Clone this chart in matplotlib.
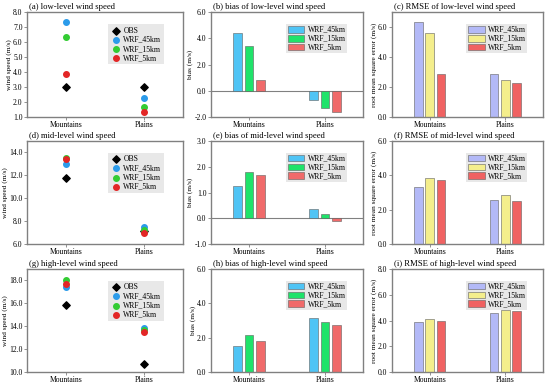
import numpy as np
import matplotlib
matplotlib.use("Agg")
import matplotlib.pyplot as plt
from matplotlib.ticker import FormatStrFormatter

plt.rcParams['font.family'] = ['Liberation Serif', 'DejaVu Serif']

regions = ['Mountains', 'Plains']
models = ['WRF_45km', 'WRF_15km', 'WRF_5km']

# wind speed (m/s): OBS and model values per level
obs_low = [3.0, 3.0]
wrf_low = [[7.35, 2.3], [6.35, 1.7], [3.85, 1.35]]
obs_mid = [11.75, 7.1]
wrf_mid = [[13.0, 7.45], [13.5, 7.2], [13.4, 7.0]]
obs_high = [15.85, 10.7]
wrf_high = [[17.4, 13.85], [18.0, 13.7], [17.7, 13.5]]

# bias (m/s)
bias_low = [[4.4, -0.7], [3.4, -1.3], [0.85, -1.65]]
bias_mid = [[1.25, 0.35], [1.78, 0.15], [1.68, -0.12]]
bias_high = [[1.5, 3.15], [2.15, 2.9], [1.82, 2.75]]

# RMSE (m/s)
rmse_low = [[6.35, 2.85], [5.6, 2.5], [2.85, 2.3]]
rmse_mid = [[3.3, 2.55], [3.85, 2.85], [3.7, 2.5]]
rmse_high = [[3.9, 4.6], [4.15, 4.8], [4.0, 4.7]]

levels = ['low', 'mid', 'high']
letters = 'abcdefghi'

pt_colors = ['#2b9bea', '#33cc33', '#e32626']
bias_colors = ['#4fc4f5', '#1fe36a', '#f06a6a']
rmse_colors = ['#b3b9f7', '#f4ee8c', '#f06262']

speed_lims = [(1, 8, [1, 2, 3, 4, 5, 6, 7, 8]), (6, 15, [6, 8, 10, 12, 14]), (10, 19, [10, 12, 14, 16, 18])]
bias_lims = [(-2, 6, [-2, 0, 2, 4, 6]), (-1, 3, [-1, 0, 1, 2, 3]), (0, 6, [0, 2, 4, 6])]
rmse_lims = [(0, 7, [0, 2, 4, 6]), (0, 6, [0, 2, 4, 6]), (0, 8, [0, 2, 4, 6, 8])]

obs_all = [obs_low, obs_mid, obs_high]
wrf_all = [wrf_low, wrf_mid, wrf_high]
bias_all = [bias_low, bias_mid, bias_high]
rmse_all = [rmse_low, rmse_mid, rmse_high]

W, H = 550, 387
fig = plt.figure(figsize=(W / 100, H / 100), dpi=100)

col_px = [(27, 156), (211, 152), (392, 151)]
row_px = [(12, 105), (141, 103), (269, 103)]

x = np.arange(len(regions))
off = 0.15
bw = 0.115
grey = '#808080'


def style(ax, lims, ylabel, title):
    ax.set_xlim(-0.5, 1.5)
    ax.set_ylim(lims[0], lims[1])
    ax.set_yticks(lims[2])
    ax.yaxis.set_major_formatter(FormatStrFormatter('%.1f'))
    ax.set_xticks(x)
    ax.set_xticklabels(regions)
    ax.tick_params(labelsize=5.5, length=2, width=0.6, color=grey, pad=1.2)
    for s in ax.spines.values():
        s.set_color(grey)
        s.set_linewidth(1.0)
    ax.set_ylabel(ylabel, fontsize=5.3, labelpad=1)
    ax.set_title(title, loc='left', fontsize=6.2, pad=2, x=0.01)


for r in range(3):
    for c in range(3):
        lx, wx = col_px[c]
        ty, hy = row_px[r]
        ax = fig.add_axes([lx / W, 1 - (ty + hy) / H, wx / W, hy / H])
        idx = r * 3 + c
        lev = levels[r]
        if c == 0:
            ax.scatter(x, obs_all[r], marker='D', s=14, color='black', label='OBS', zorder=3)
            for m in range(3):
                ax.scatter(x, wrf_all[r][m], marker='o', s=16, color=pt_colors[m],
                           label=models[m], zorder=3)
            style(ax, speed_lims[r], 'wind speed (m/s)',
                  '(%s) %s-level wind speed' % (letters[idx], lev))
            leg = ax.legend(loc='upper right', fontsize=5.5, frameon=True, fancybox=False,
                            handletextpad=0.2, borderpad=0.3, labelspacing=0.15,
                            bbox_to_anchor=(0.9, 0.92), handlelength=1.5)
        else:
            if c == 1:
                vals, cols, lims = bias_all[r], bias_colors, bias_lims[r]
                ylab = 'bias (m/s)'
                ttl = '(%s) bias of %s-level wind speed' % (letters[idx], lev)
            else:
                vals, cols, lims = rmse_all[r], rmse_colors, rmse_lims[r]
                ylab = 'root mean square error (m/s)'
                ttl = '(%s) RMSE of %s-level wind speed' % (letters[idx], lev)
            for m in range(3):
                ax.bar(x + (m - 1) * off, vals[m], width=bw, color=cols[m],
                       edgecolor='#606060', linewidth=0.4, label=models[m], zorder=2)
            if lims[0] < 0:
                ax.axhline(0, color=grey, linewidth=0.8, zorder=1)
            style(ax, lims, ylab, ttl)
            leg = ax.legend(loc='upper right', fontsize=5.5, frameon=True, fancybox=False,
                            handletextpad=0.4, borderpad=0.2, labelspacing=0.12,
                            bbox_to_anchor=(0.92, 0.92), handlelength=2.2, handleheight=1.0)
        fr = leg.get_frame()
        fr.set_facecolor('#e8e8e8')
        fr.set_edgecolor('none')
        fr.set_alpha(1.0)

fig.savefig('out.png', dpi=100)
